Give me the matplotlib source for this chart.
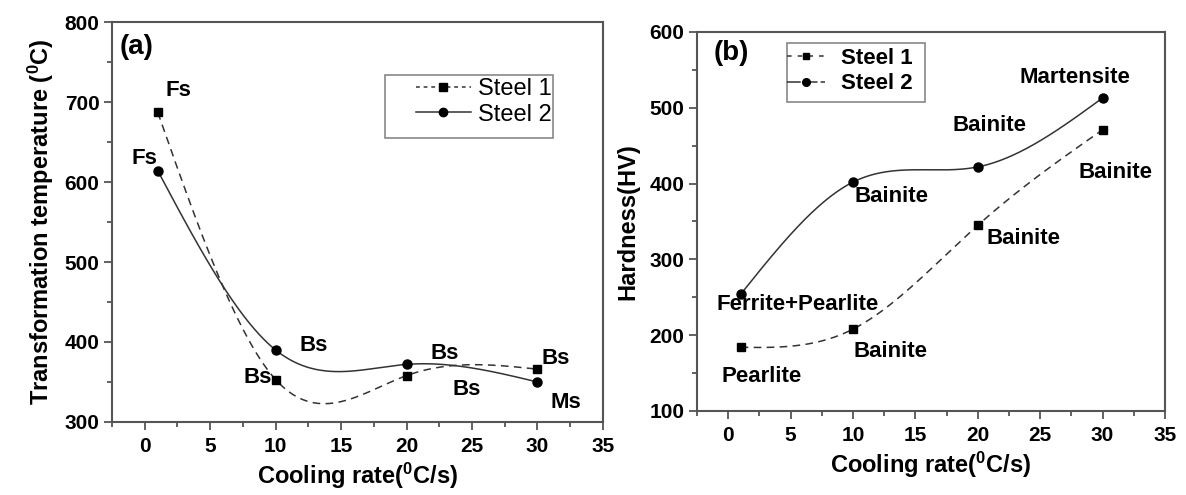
import numpy as np
import matplotlib
matplotlib.use("Agg")
import matplotlib.pyplot as plt
from matplotlib.ticker import MultipleLocator
from matplotlib.patches import Rectangle

plt.rcParams['font.family'] = ['Liberation Sans', 'DejaVu Sans']
plt.rcParams['mathtext.fontset'] = 'custom'
plt.rcParams['mathtext.rm'] = 'Liberation Sans:bold'
plt.rcParams['mathtext.default'] = 'rm'

# ---- data ----
cooling_rate = [1, 10, 20, 30]
temp_steel1 = [687, 353, 358, 366]
temp_steel2 = [614, 390, 372, 350]
hard_steel1 = [184, 208, 345, 471]
hard_steel2 = [254, 402, 422, 513]

labels_a = [("Fs", 2.6, 715), ("Fs", 0.0, 630), ("Bs", 12.9, 396), ("Bs", 8.6, 355),
            ("Bs", 22.9, 386), ("Bs", 24.6, 340), ("Bs", 31.4, 379), ("Ms", 32.2, 324)]
labels_b = [("Martensite", 27.8, 540), ("Bainite", 20.9, 477), ("Bainite", 31.0, 415),
            ("Bainite", 13.1, 383), ("Bainite", 23.7, 327), ("Ferrite+Pearlite", 5.6, 240),
            ("Bainite", 13.0, 179), ("Pearlite", 2.7, 146)]


def natural_spline(x, y, n=300):
    x = np.asarray(x, float); y = np.asarray(y, float)
    k = len(x); h = np.diff(x)
    A = np.zeros((k, k)); b = np.zeros(k)
    A[0, 0] = 1; A[-1, -1] = 1
    for i in range(1, k - 1):
        A[i, i - 1] = h[i - 1]; A[i, i] = 2 * (h[i - 1] + h[i]); A[i, i + 1] = h[i]
        b[i] = 6 * ((y[i + 1] - y[i]) / h[i] - (y[i] - y[i - 1]) / h[i - 1])
    M = np.linalg.solve(A, b)
    xs = np.linspace(x[0], x[-1], n)
    idx = np.clip(np.searchsorted(x, xs) - 1, 0, k - 2)
    x0 = x[idx]; x1 = x[idx + 1]; hh = x1 - x0
    ys = (M[idx] * (x1 - xs) ** 3 / (6 * hh) + M[idx + 1] * (xs - x0) ** 3 / (6 * hh)
          + (y[idx] / hh - M[idx] * hh / 6) * (x1 - xs)
          + (y[idx + 1] / hh - M[idx + 1] * hh / 6) * (xs - x0))
    return xs, ys


fig = plt.figure(figsize=(11.86, 4.95), dpi=100)
ax1 = fig.add_axes([0.0944, 0.1475, 0.414, 0.808])
ax2 = fig.add_axes([0.5877, 0.1697, 0.3946, 0.7657])

lc = '#333333'
sc = '#555555'


def style(ax, ylim):
    ax.set_xlim(-2.5, 35)
    ax.set_ylim(*ylim)
    ax.xaxis.set_major_locator(MultipleLocator(5))
    ax.xaxis.set_minor_locator(MultipleLocator(2.5))
    ax.yaxis.set_major_locator(MultipleLocator(100))
    ax.yaxis.set_minor_locator(MultipleLocator(50))
    ax.tick_params(which='both', direction='out', top=False, right=False, color=sc, width=1.3)
    ax.tick_params(which='major', length=6, labelsize=15, pad=3)
    ax.tick_params(axis='x', which='major', pad=5)
    ax.tick_params(which='minor', length=3.5)
    for lab in ax.get_xticklabels() + ax.get_yticklabels():
        lab.set_fontweight('bold')
    for s in ax.spines.values():
        s.set_color(sc); s.set_linewidth(1.5)
    ax.set_xlabel("Cooling rate($^{0}$C/s)", fontsize=17, fontweight='bold', labelpad=3)


def frame(ax, x0, y0, x1, y1):
    ax.add_patch(Rectangle((x0, y0), x1 - x0, y1 - y0, transform=ax.transAxes, fill=False,
                           edgecolor='#888888', lw=1.2, zorder=5))


# ---- panel (a) ----
xs, ys = natural_spline(cooling_rate, temp_steel1)
ax1.plot(xs, ys, color=lc, lw=1.1, ls=(0, (5, 3.5)))
ax1.plot(cooling_rate, temp_steel1, 's', color='black', ms=5.5)
ax1.plot([], [], color=lc, lw=1.1, ls=(0, (2.5, 2.5)), marker='s', ms=5.5, mfc='black', mec='black', label='Steel 1')
xs, ys = natural_spline(cooling_rate, temp_steel2)
ax1.plot(xs, ys, color=lc, lw=1.1)
ax1.plot(cooling_rate, temp_steel2, 'o', color='black', ms=6.5)
ax1.plot([], [], color=lc, lw=1.1, marker='o', ms=6, mfc='black', mec='black', label='Steel 2')
style(ax1, (300, 800))
ax1.set_ylabel("Transformation temperature ($^{0}$C)", fontsize=17, fontweight='bold', labelpad=6)
for t, x, y in labels_a:
    ax1.text(x, y, t, fontsize=16, fontweight='bold', ha='center', va='center')
ax1.text(-1.9, 769, "(a)", fontsize=20, fontweight='bold', ha='left', va='center')
frame(ax1, 0.556, 0.71, 0.898, 0.8675)
leg = ax1.legend(loc='upper right', bbox_to_anchor=(0.895, 0.86), frameon=False,
                 fontsize=17, handlelength=2.3, borderpad=0, labelspacing=0.15, handletextpad=0.3,
                 borderaxespad=0)

# ---- panel (b) ----
xs, ys = natural_spline(cooling_rate, hard_steel1)
ax2.plot(xs, ys, color=lc, lw=1.1, ls=(0, (5, 3.5)))
ax2.plot(cooling_rate, hard_steel1, 's', color='black', ms=5.5)
ax2.plot([], [], color=lc, lw=1.1, ls=(0, (3, 4)), marker='s', ms=5, mfc='black', mec='black', label='Steel 1')
xs, ys = natural_spline(cooling_rate, hard_steel2)
ax2.plot(xs, ys, color=lc, lw=1.1)
ax2.plot(cooling_rate, hard_steel2, 'o', color='black', ms=6.5)
ax2.plot([], [], color=lc, lw=1.1, ls=(0, (9, 2)), marker='o', ms=5.5, mfc='black', mec='black', label='Steel 2')
style(ax2, (100, 600))
ax2.set_ylabel("Hardness(HV)", fontsize=17, fontweight='bold', labelpad=7)
for t, x, y in labels_b:
    ax2.text(x, y, t, fontsize=16, fontweight='bold', ha='center', va='center')
ax2.text(-1.2, 572, "(b)", fontsize=20, fontweight='bold', ha='left', va='center')
frame(ax2, 0.192, 0.815, 0.487, 0.971)
leg2 = ax2.legend(loc='upper left', bbox_to_anchor=(0.192, 0.958), frameon=False,
                  prop={'size': 16, 'weight': 'bold'}, handlelength=1.7, borderpad=0,
                  labelspacing=0.2, handletextpad=0.75, borderaxespad=0)

fig.savefig("out.png", dpi=100)
